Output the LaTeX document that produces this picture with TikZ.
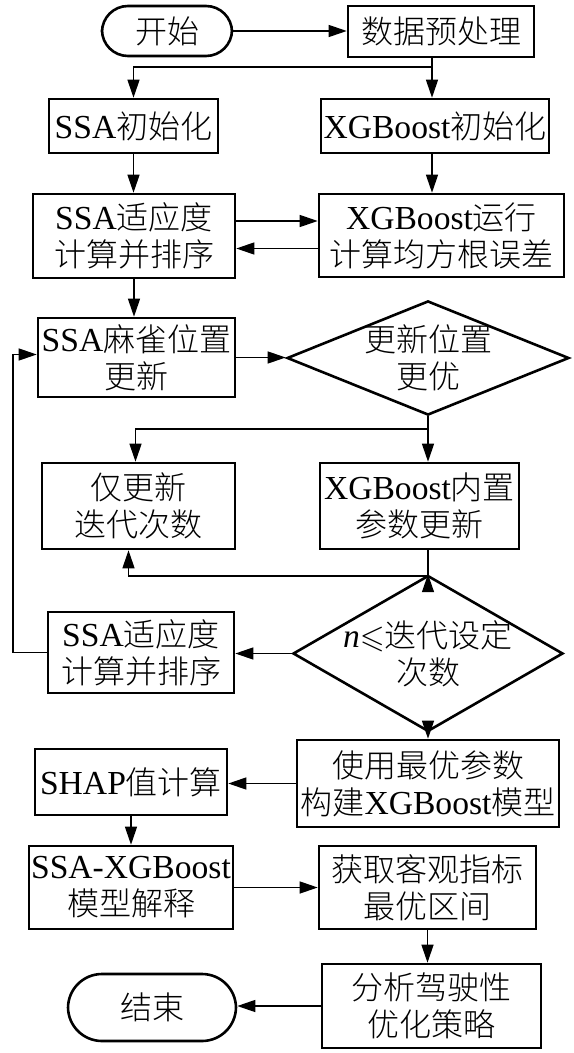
\documentclass[tikz,border=0pt]{standalone}
\usepackage{amssymb}
\usepackage{fontspec}
\setmainfont{Liberation Serif}[Scale=1.05]
\newfontfamily\cjk{Noto Sans CJK SC}[UprightFont={* Light}]
\usetikzlibrary{arrows.meta,shapes.geometric}
\newcommand{\en}[1]{{\rmfamily #1}}

\begin{document}
\begin{tikzpicture}[x=0.5pt, y=-0.5pt,
    every node/.style={font=\cjk\fontsize{16}{18.5}\selectfont, align=center, inner sep=0pt},
    box/.style={draw, line width=1.3pt},
    cond/.style={box, diamond, inner sep=-10pt},
    ln/.style={line width=0.65pt},
    arr/.style={ln, -{Triangle[length=9pt,width=6pt]}}]
  \useasboundingbox (0,0) rectangle (573,1053);
  \node[box, rounded corners=13pt, minimum width=65pt, minimum height=25pt] (start) at (167,31) {开始};
  \node[box, minimum width=93pt, minimum height=25.5pt] (pre) at (441,31.5) {数据预处理};
  \node[box, minimum width=84.5pt, minimum height=27pt] (ssainit) at (133.5,126) {\en{SSA}初始化};
  \node[box, minimum width=114pt, minimum height=27pt] (xgbinit) at (435,126) {\en{XGBoost}初始化};
  \node[box, minimum width=101pt, minimum height=42pt] (fit1) at (134,236) {\en{SSA}适应度\\计算并排序};
  \node[box, minimum width=122.5pt, minimum height=41.5pt] (xgbrun) at (441.5,235.5) {\en{XGBoost}运行\\计算均方根误差};
  \node[box, minimum width=98.5pt, minimum height=39.5pt] (upd) at (136.5,357.5) {\en{SSA}麻雀位置\\更新};
  \node[cond, minimum width=141pt, minimum height=55.5pt] (dec1) at (428,358) {更新位置\\更优};
  \node[box, minimum width=96.5pt, minimum height=43pt] (only) at (138.5,506) {仅更新\\迭代次数};
  \node[box, minimum width=99.5pt, minimum height=43pt] (inner) at (419.5,506) {\en{XGBoost}内置\\参数更新};
  \node[box, minimum width=93pt, minimum height=40.5pt] (fit2) at (141,652.5) {\en{SSA}适应度\\计算并排序};
  \node[cond, minimum width=135pt, minimum height=52.5pt] (dec2) at (428,653.5) {\en{\textit{n}}$\leqslant$迭代设定\\次数};
  \node[box, minimum width=131pt, minimum height=43.5pt] (build) at (428,783.5) {使用最优参数\\构建\en{XGBoost}模型};
  \node[box, minimum width=96pt, minimum height=33pt] (shap) at (131,782) {\en{SHAP}值计算};
  \node[box, minimum width=102pt, minimum height=41.5pt] (explain) at (131,887.5) {\en{SSA-XGBoost}\\模型解释};
  \node[box, minimum width=108.5pt, minimum height=41.5pt] (range) at (427.5,887.5) {获取客观指标\\最优区间};
  \node[box, minimum width=109.5pt, minimum height=42pt] (strat) at (431.5,1006) {分析驾驶性\\优化策略};
  \node[box, rounded corners=17pt, minimum width=84pt, minimum height=33.5pt] (end) at (152,1007.5) {结束};
  \coordinate (s1) at (432,67);
  \coordinate (s2) at (428,429);
  \coordinate (j1) at (428,576);
  \coordinate (lp) at (13,500);
  \foreach \a/\b in {start/pre, upd/dec1, explain/range} {\draw[arr] (\a.east) -- (\a.east -| \b.west);}
  \foreach \a/\b in {dec2/fit2, build/shap, strat/end} {\draw[arr] (\a.west) -- (\a.west -| \b.east);}
  \foreach \a/\b in {ssainit/fit1, fit1/upd, dec2/build, shap/explain, range/strat} {\draw[arr] (\a.south) -- (\a.south |- \b.north);}
  \draw[ln] (pre.south -| s1) -- (s1); \draw[arr] (s1) -| (ssainit.north); \draw[arr] (s1) -- (s1 |- xgbinit.north);
  \draw[arr] (xgbinit.south -| s1) -- (s1 |- xgbrun.north);
  \draw[arr] ([yshift=7.5pt]fit1.east) -- ([yshift=7.5pt]fit1.east -| xgbrun.west);
  \draw[arr] ([yshift=-6.5pt]xgbrun.west) -- ([yshift=-6.5pt]xgbrun.west -| fit1.east);
  \draw[ln] (dec1.south) -- (s2); \draw[arr] (s2) -| ([xshift=-1.5pt]only.north); \draw[arr] (s2) -- (s2 |- inner.north);
  \draw[ln] (inner.south -| s2) -- (j1); \draw[arr] (j1) -| ([xshift=-5pt]only.south); \draw[arr] (j1) -- (dec2.north);
  \draw[arr] (fit2.west) -- (fit2.west -| lp) |- ([yshift=1.5pt]upd.west);
\end{tikzpicture}
\end{document}
